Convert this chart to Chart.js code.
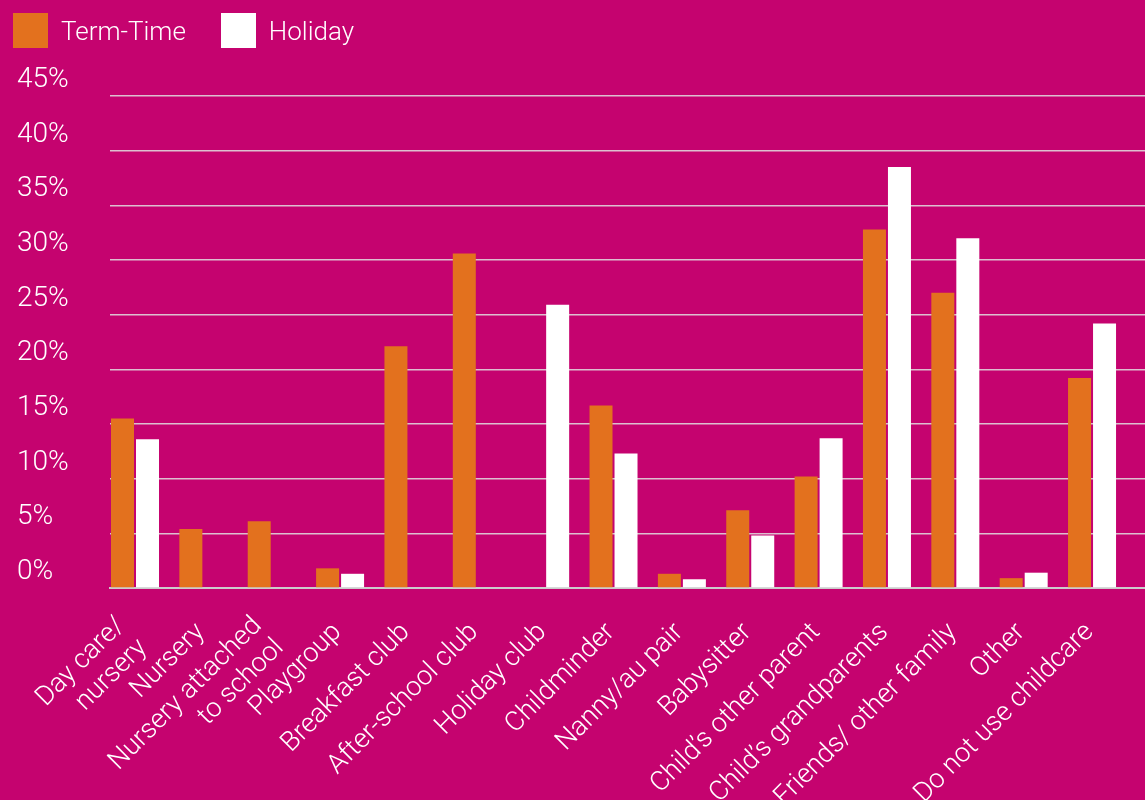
<!DOCTYPE html>
<html>
<head>
<meta charset="utf-8">
<script src="https://cdn.jsdelivr.net/npm/chart.js@4.4.1/dist/chart.umd.min.js"></script>
<style>
  html, body { margin: 0; padding: 0; background: #c5036f; }
  #wrap { position: relative; width: 1145px; height: 800px; }
  #legend { position: absolute; left: 13px; top: 13px; display: flex; }
  .item { display: flex; align-items: center; margin-right: 35px; }
  .swatch { width: 35px; height: 35px; margin-right: 13px; }
  .item span { color: #fff; font: 300 26px Roboto, "Liberation Sans", sans-serif; }
</style>
</head>
<body>
<div id="wrap">
  <canvas id="chart" width="1145" height="800"></canvas>
  <div id="legend"></div>
</div>
<script>
const categories = [
  ["Day care/", "nursery"], "Nursery", ["Nursery attached", "to school"], "Playgroup",
  "Breakfast club", "After-school club", "Holiday club", "Childminder", "Nanny/au pair",
  "Babysitter", "Child’s other parent", "Child’s grandparents", "Friends/ other family",
  "Other", "Do not use childcare"
];
const termTime = [15.5, 5.4, 6.1, 1.8, 22.1, 30.6, null, 16.7, 1.3, 7.1, 10.2, 32.8, 27.0, 0.9, 19.2];
const holiday  = [13.6, null, null, 1.3, null, null, 25.9, 12.3, 0.8, 4.8, 13.7, 38.5, 32.0, 1.4, 24.2];
const yTicks = [0, 5, 10, 15, 20, 25, 30, 35, 40, 45];

const ORANGE = "#e3711e";
const WHITE = "#ffffff";
const GRID = "rgba(225,225,225,0.85)";

// one category step in px, and the x range that keeps each bar pair at the left of its step
const STEP = 68.36;
const X_MIN = -25 / STEP;
const X_MAX = X_MIN + 1035 / STEP;

Chart.defaults.font.family = 'Roboto, "Liberation Sans", sans-serif';
Chart.defaults.font.weight = "300";
Chart.defaults.font.size = 26;
Chart.defaults.color = "#fff";

const toPoints = arr => arr.map((v, i) => ({ x: i, y: v }));
const twoLines = i => Array.isArray(categories[i]);

const chart = new Chart(document.getElementById("chart"), {
  type: "bar",
  data: {
    datasets: [
      { label: "Term-Time", data: toPoints(termTime), backgroundColor: ORANGE, borderWidth: 0 },
      { label: "Holiday", data: toPoints(holiday), backgroundColor: WHITE, borderWidth: 0 }
    ]
  },
  options: {
    responsive: false,
    animation: false,
    categoryPercentage: 50 / STEP,
    barPercentage: 0.92,
    layout: { padding: { left: 17, top: 96, right: 0, bottom: 0 } },
    plugins: { legend: { display: false }, tooltip: { enabled: false } },
    scales: {
      x: {
        type: "linear",
        offset: false,
        min: X_MIN,
        max: X_MAX,
        grid: { display: false, drawTicks: false, offset: false },
        border: { display: true, color: "#cccccc", width: 2 },
        afterBuildTicks: s => { s.ticks = categories.map((c, i) => ({ value: i })); },
        afterFit: s => { s.height = 212; },
        ticks: {
          autoSkip: false,
          minRotation: 45,
          maxRotation: 45,
          padding: 23,
          labelOffset: -14,
          // single labels get an empty first line with a short line height,
          // so they sit between the two lines of the wrapped labels
          font: ctx => ({ size: 27, lineHeight: twoLines(ctx.index) ? 1.15 : 0.6 }),
          callback: v => twoLines(v) ? categories[v] : ["", categories[v]]
        }
      },
      y: {
        min: 0,
        max: 45,
        grid: { color: GRID, lineWidth: 1.5, drawTicks: false },
        border: { display: false },
        afterBuildTicks: s => { s.ticks = yTicks.map(v => ({ value: v })); },
        afterFit: s => { s.width = 93; },
        ticks: {
          crossAlign: "far",
          padding: 0,
          labelOffset: -16,
          font: { size: 28 },
          callback: v => v + "%"
        }
      }
    }
  }
});

// legend drawn as html from the chart datasets
const legend = document.getElementById("legend");
chart.data.datasets.forEach(ds => {
  const item = document.createElement("div");
  item.className = "item";
  item.innerHTML = `<div class="swatch" style="background:${ds.backgroundColor}"></div><span>${ds.label}</span>`;
  legend.appendChild(item);
});
</script>
</body>
</html>
